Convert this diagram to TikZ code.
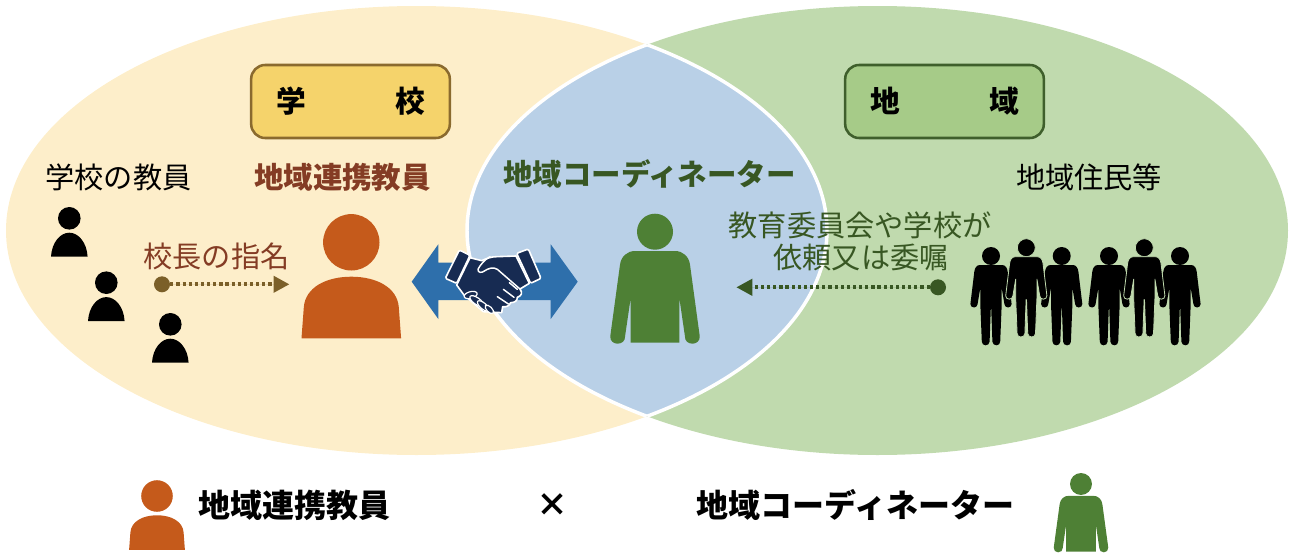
\documentclass[tikz,border=0pt]{standalone}
\usepackage{fontspec}
\setmainfont{Noto Sans CJK JP}
\usetikzlibrary{arrows.meta}
\definecolor{leftbg}{HTML}{FDEECA}
\definecolor{rightbg}{HTML}{C0DAAE}
\definecolor{lensbg}{HTML}{B9D0E7}
\definecolor{boxY}{HTML}{F5D36B}
\definecolor{boxYd}{HTML}{8A6A2E}
\definecolor{boxG}{HTML}{A6CB88}
\definecolor{boxGd}{HTML}{3F5F2C}
\definecolor{brownT}{HTML}{843C24}
\definecolor{greenT}{HTML}{385723}
\definecolor{orangeP}{HTML}{C55A1B}
\definecolor{greenP}{HTML}{4E8035}
\definecolor{blueA}{HTML}{2E6FAB}
\definecolor{navyH}{HTML}{172B52}
\definecolor{brownD}{HTML}{7B5F28}
\tikzset{
  lbl/.style={inner sep=0pt,text height=19.3pt,text depth=2.6pt,font=\fontsize{21.9}{24}\selectfont},
  lblB/.style={lbl,font=\fontsize{22.1}{24}\selectfont\bfseries},
  lgd/.style={inner sep=0pt,text height=21.2pt,text depth=2.9pt,font=\fontsize{24}{26}\selectfont\bfseries},
  titlebox/.style={draw,line width=1.9pt,rounded corners=10.5pt,minimum width=149pt,minimum height=54.75pt,inner sep=0pt,text height=19.6pt,text depth=2.7pt,font=\fontsize{22.3}{26}\selectfont\bfseries},
  startdot/.style={circle,inner sep=0pt,minimum size=12pt},
  dotarrow/.style={line width=3.1pt,dash pattern=on 2.4pt off 2.2pt,-{Triangle[length=12pt,width=12pt]}},
  bust/.pic={
    \path[pic actions] (0,0) circle[radius=11.3];
    \path[pic actions] (-18.3,38.4) .. controls (-17.5,24) and (-9,14.4) .. (0,14.4) .. controls (9,14.4) and (17.5,24) .. (18.3,38.4) -- cycle;
  },
  bigbust/.pic={
    \path[pic actions] (0,0) circle[radius=28.2];
    \path[pic actions] (-49.8,96) -- (-47.5,65) .. controls (-46,45) and (-25,34.4) .. (0,34.4) .. controls (25,34.4) and (46,45) .. (47.5,65) -- (49.8,96) -- cycle;
  },
  torso/.pic={
    \path[pic actions] (0,0) circle[radius=18];
    \path[pic actions] (-20,19.3) .. controls (-28,19.3) and (-34,25) .. (-35,33) -- (-44.7,104.3)
      .. controls (-45.3,109) and (-41.5,112) .. (-37.5,112) .. controls (-33,112) and (-29.7,109) .. (-30,105)
      -- (-24.3,66) -- (-24.3,111) -- (24.3,111) -- (24.3,66) -- (30,105)
      .. controls (29.7,109) and (33,112) .. (37.5,112) .. controls (41.5,112) and (45.3,109) .. (44.7,104.3)
      -- (35,33) .. controls (34,25) and (28,19.3) .. (20,19.3) -- cycle;
  },
  walker/.pic={
    \path[pic actions] (0,0) circle[radius=9];
    \path[pic actions] (-11,9) .. controls (-14.5,9) and (-16.2,12) .. (-16.7,15.7) -- (-20.6,48)
      .. controls (-20.8,50) and (-19,51.5) .. (-17,51.5) .. controls (-15,51.5) and (-13.6,50) .. (-13.4,48)
      -- (-10.6,31.3) -- (-10.6,50.7) -- (-9.2,85.7) .. controls (-9.1,88) and (-7.4,89.3) .. (-5.4,89.3)
      .. controls (-3.4,89.3) and (-1.5,88) .. (-1.4,85.7) -- (-.2,52) -- (.2,52) -- (1.4,85.7)
      .. controls (1.5,88) and (3.4,89.3) .. (5.4,89.3) .. controls (7.4,89.3) and (9.1,88) .. (9.2,85.7)
      -- (10.6,50.7) -- (10.6,31.3) -- (13.4,48) .. controls (13.6,50) and (15,51.5) .. (17,51.5)
      .. controls (19,51.5) and (20.8,50) .. (20.6,48) -- (16.7,15.7) .. controls (16.2,12) and (14.5,9) .. (11,9) -- cycle;
  },
  cuff/.style={fill=navyH,draw=white,line width=1.2pt,line join=round,rounded corners=1pt},
  finger/.style={fill=navyH,draw=white,line width=.9pt},
  crease/.style={draw=white,line width=1.1pt,line cap=round,line join=round}
}
\begin{document}
\begin{tikzpicture}[x=.75pt,y=-.75pt]
\useasboundingbox (0,0) rectangle (1292,553);
% ellipses
\fill[leftbg] (416.5,230.5) ellipse[x radius=410.5,y radius=224.5];
\fill[rightbg] (877.5,230.5) ellipse[x radius=410.5,y radius=224.5];
\begin{scope}
  \clip (416.5,230.5) ellipse[x radius=410.5,y radius=224.5];
  \fill[lensbg] (877.5,230.5) ellipse[x radius=410.5,y radius=224.5];
  \draw[white,line width=2.6pt] (877.5,230.5) ellipse[x radius=410.5,y radius=224.5];
\end{scope}
\begin{scope}
  \clip (877.5,230.5) ellipse[x radius=410.5,y radius=224.5];
  \draw[white,line width=2.6pt] (416.5,230.5) ellipse[x radius=410.5,y radius=224.5];
\end{scope}
% title boxes
\node[titlebox,fill=boxY,draw=boxYd] (boxSchool) at (350.5,101.5) {学　　　校};
\node[titlebox,fill=boxG,draw=boxGd] (boxArea) at (944.5,101.5) {地　　　域};
% labels
\node[lbl] (teachers) at (118.5,177) {学校の教員};
\node[lblB,text=brownT] (liaison) at (342.5,177) {地域連携教員};
\node[lblB,text=greenT] (coord) at (649.5,174) {地域コーディネーター};
\node[lbl] (residents) at (1089,177) {地域住民等};
\node[lbl,text=brownT] (appoint) at (216.5,256) {校長の指名};
\node[lbl,text=greenT] (request1) at (860,225) {教育委員会や学校が};
\node[lbl,text=greenT] (request2) at (861,257) {依頼又は委嘱};
% people
\pic[fill=black] at (69.3,218.3) {bust};
\pic[fill=black] at (106.3,282.7) {bust};
\pic[fill=black] at (170.3,324.3) {bust};
\pic[fill=orangeP] at (351.3,242.3) {bigbust};
\pic[fill=greenP] at (655,231.7) {torso};
\foreach \px in {991,1061.7,1109,1180} \pic[fill=black] at (\px,256) {walker};
\foreach \px in {1026.3,1144.3} \pic[fill=black,draw=rightbg,line width=.6pt] at (\px,247.7) {walker};
% dotted arrows
\node[startdot,fill=brownD] (dotA) at (162,284.3) {};
\coordinate (tipA) at (289.5,284.3);
\draw[dotarrow,draw=brownD,fill=brownD] (dotA) -- (tipA);
\node[startdot,fill=greenT] (dotB) at (938,287.3) {};
\coordinate (tipB) at (736.3,287.3);
\draw[dotarrow,draw=greenT,fill=greenT] (dotB) -- (tipB);
% double arrow
\fill[blueA] (411.7,281.7) -- (438.3,244.3) -- (438.3,262.7) -- (550.7,262.7) -- (550.7,244.3) -- (577.7,281.7) -- (550.7,319) -- (550.7,300) -- (438.3,300) -- (438.3,319) -- cycle;
% handshake
\begin{scope}[shift={(440,240)},scale=1/3]
  \path[fill=navyH,draw=white,line width=1.2pt,line join=round]
    (90,53) -- (125,62) .. controls (140,55) and (155,50) .. (170,50) -- (228,48) -- (268,130) -- (240,147)
    .. controls (248,158) and (245,168) .. (232,172) .. controls (232,182) and (225,188) .. (212,188)
    .. controls (208,198) and (198,202) .. (188,200) -- (185,218) -- (130,215) -- (72,165) -- (50,135) -- cycle;
  \path[cuff] (58,30) -- (90,46) -- (50,130) -- (16,115) -- cycle;
  \path[cuff] (230,40) -- (265,27) -- (303,115) -- (272,130) -- cycle;
  \path[crease] (150,50) .. controls (135,58) and (120,75) .. (114,88) .. controls (113,98) and (125,100) .. (133,93) .. controls (145,85) and (160,80) .. (172,88) -- (240,147);
  \path[crease] (208,128) -- (232,148);
  \path[crease] (190,148) -- (222,172);
  \path[crease] (172,170) -- (205,192);
  \path[finger,rotate around={15:(92,165)}] (92,165) ellipse[x radius=20,y radius=10];
  \path[finger,rotate around={-35:(110,183)}] (110,183) ellipse[x radius=24,y radius=10];
  \path[finger,rotate around={-40:(130,198)}] (130,198) ellipse[x radius=22,y radius=9];
  \path[finger,rotate around={-45:(148,208)}] (148,208) ellipse[x radius=16,y radius=8];
\end{scope}
% legend
\pic[fill=orangeP,scale=.56] at (157,496) {bigbust};
\node[lgd] (legLiaison) at (294.5,505) {地域連携教員};
\node[lbl,font=\fontsize{24}{26}\selectfont\bfseries] (times) at (552,505) {×};
\node[lgd] (legCoord) at (855.5,505) {地域コーディネーター};
\pic[fill=greenP,scale=.61] at (1081,484) {torso};
\end{tikzpicture}
\end{document}
